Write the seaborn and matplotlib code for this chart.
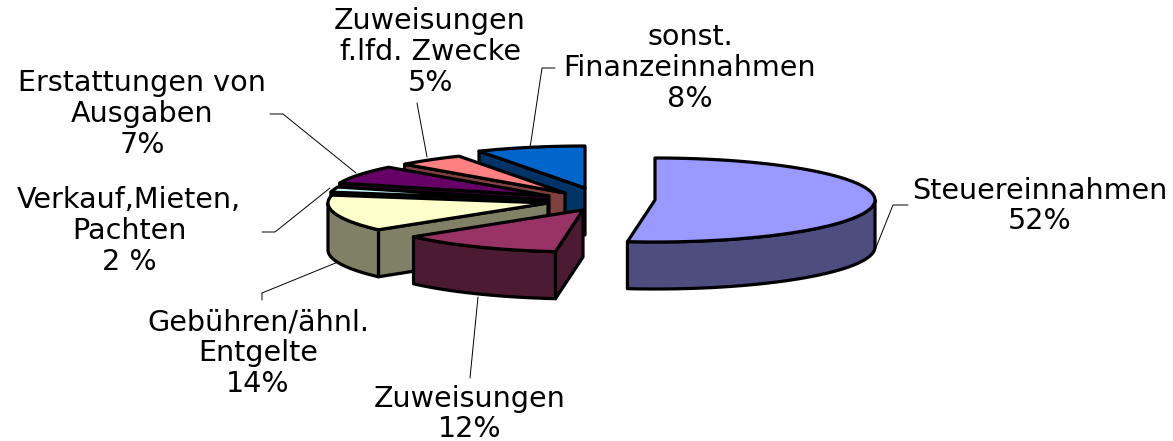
import numpy as np
import seaborn as sns
import matplotlib.pyplot as plt

# Daten
categories = ["Steuereinnahmen", "Zuweisungen", "Gebühren/ähnl.\nEntgelte", "Verkauf,Mieten,\nPachten",
              "Erstattungen von\nAusgaben", "Zuweisungen\nf.lfd. Zwecke", "sonst.\nFinanzeinnahmen"]
values = [52, 12, 14, 2, 7, 5, 8]
value_labels = ["52%", "12%", "14%", "2 %", "7%", "5%", "8%"]

# Farben
top_colors = ["#9999FF", "#993366", "#FFFFCC", "#CCFFFF", "#660066", "#FF8080", "#0066CC"]
wall_colors = ["#4D4D80", "#4D1A33", "#808066", "#668080", "#330033", "#804040", "#003366"]

# Layout in Pixeln: Mitte, Radien, Explosion je Stueck
cx, cy = 590, 197
rx, ry = 220, 42
depth = 47
explode_x = [65, -7, -42, -43, -41, -25, -5]
explode_y = [3, 13, 6, 3, -1, -4, -9]
draw_order = [6, 5, 4, 3, 2, 1, 0]

label_x = [1040, 470, 258, 129, 142, 430, 690]
label_y = [206, 414, 353, 231, 114, 52, 68]
leaders = [
    [(875, 250), (893, 205), (908, 205)],
    [(478, 297), (470, 378)],
    [(338, 262), (262, 293), (262, 300)],
    [(330, 188), (275, 232), (262, 232)],
    [(356, 173), (283, 114), (270, 114)],
    [(427, 157), (417, 103)],
    [(530, 148), (542, 68), (555, 68)],
]

sns.set_theme(style="white")
plt.rcParams["font.family"] = ["DejaVu Sans"]

fig, ax = plt.subplots(figsize=(11.73, 4.41), dpi=100)
ax.set_position([0, 0, 1, 1])
ax.set_xlim(0, 1173)
ax.set_ylim(441, 0)
ax.axis("off")

# Winkel aus den Werten (im Uhrzeigersinn von oben)
edges = np.concatenate([[0], np.cumsum(values)]) / np.sum(values) * 360


def rim(x0, y0, t):
    r = np.radians(t)
    return x0 + rx * np.sin(r), y0 - ry * np.cos(r)


for i in draw_order:
    t0, t1 = edges[i], edges[i + 1]
    x0, y0 = cx + explode_x[i], cy + explode_y[i]
    ts = np.linspace(t0, t1, 80)
    ax_, ay_ = rim(x0, y0, ts)

    # Schnittflaeche, nur wenn sie nach vorne zeigt
    if np.sin(np.radians(t0)) < -1e-6:
        sx, sy = rim(x0, y0, t0)
        ax.fill([x0, sx, sx, x0], [y0, sy, sy + depth, y0 + depth],
                facecolor=wall_colors[i], edgecolor="black", lw=2.3, joinstyle="round")

    # Aussenwand (vorderer Bogen)
    a, b = max(t0, 90), min(t1, 270)
    if a < b:
        tw = np.linspace(a, b, 80)
        wx, wy = rim(x0, y0, tw)
        ax.fill(np.concatenate([wx, wx[::-1]]), np.concatenate([wy, wy[::-1] + depth]),
                facecolor=wall_colors[i], edgecolor="black", lw=2.3, joinstyle="round")

    # Oberseite
    ax.fill(np.concatenate([[x0], ax_]), np.concatenate([[y0], ay_]),
            facecolor=top_colors[i], edgecolor="black", lw=2.3, joinstyle="round")

# Beschriftung mit Fuehrungslinien
for i in range(len(values)):
    lx, ly = zip(*leaders[i])
    ax.plot(lx, ly, color="black", lw=0.7)
    ax.text(label_x[i], label_y[i], categories[i] + "\n" + value_labels[i],
            ha="center", va="center", fontsize=20.6, color="black", linespacing=1.12)

fig.savefig("out.png", dpi=100)
